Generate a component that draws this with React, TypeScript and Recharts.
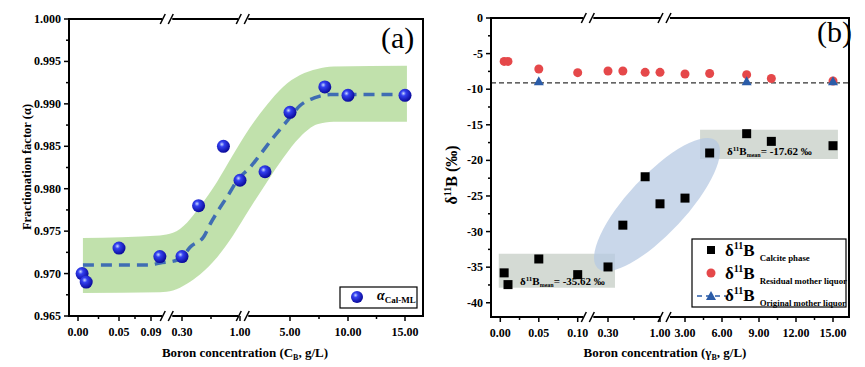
import React from "react";
import {
  ComposedChart,
  Scatter,
  Line,
  Area,
  XAxis,
  YAxis,
  ReferenceArea,
  ReferenceLine,
  ReferenceDot,
} from "recharts";

const FONT = '"Liberation Serif", "Times New Roman", serif';

// ---- panel (a): fractionation factor ----
const alphaConc = [0.005, 0.01, 0.05, 0.15, 0.3, 0.5, 0.8, 1, 3, 5, 8, 10, 15];
const alphaVals = [0.97, 0.969, 0.973, 0.972, 0.972, 0.978, 0.985, 0.981, 0.982, 0.989, 0.992, 0.991, 0.991];

const fitConc = [0.006, 0.05, 0.088, 0.15, 0.25, 0.3, 0.397, 0.566, 0.638, 0.722, 0.855, 0.976, 1.8, 2.6, 3.64, 4.84, 5.87, 7.09, 8.48, 15];
const fitVals = [0.971, 0.971, 0.971, 0.97125, 0.9715, 0.9719, 0.9731, 0.9744, 0.9758, 0.9772, 0.9792, 0.9811, 0.9825, 0.984, 0.986, 0.9881, 0.9898, 0.9907, 0.9911, 0.9911];

const bandConc = [0.006, 0.151, 0.239, 0.36, 0.517, 0.722, 0.916, 1.8, 3.16, 4.44, 5.87, 7.35, 8.74, 15.17];
const bandLow = [0.9677, 0.9678, 0.968, 0.9688, 0.9699, 0.9719, 0.9745, 0.9777, 0.9808, 0.9836, 0.9861, 0.9876, 0.9879, 0.9879];
const bandHigh = [0.9742, 0.9745, 0.9748, 0.976, 0.9779, 0.9808, 0.984, 0.9872, 0.9899, 0.992, 0.9934, 0.9941, 0.9944, 0.9945];

const aTickConc = [0, 0.05, 0.09, 0.3, 1, 5, 10, 15];
const aTickLabels = ["0.00", "0.05", "0.09", "0.30", "1.00", "5.00", "10.00", "15.00"];
const aMinorConc = [0.025, 0.07, 0.65, 7.5, 12.5];
const aYTicks = [0.965, 0.97, 0.975, 0.98, 0.985, 0.99, 0.995, 1.0];
const aYMinor = [0.9675, 0.9725, 0.9775, 0.9825, 0.9875, 0.9925, 0.9975];
const aBreaks = [0.2, 1.26];

// ---- panel (b): delta 11B ----
const bConc = [0.005, 0.01, 0.05, 0.1, 0.3, 0.5, 0.8, 1, 3, 5, 8, 10, 15];
const calciteVals = [-35.8, -37.45, -33.85, -36.05, -34.97, -29.1, -22.3, -26.1, -25.3, -18.96, -16.25, -17.33, -17.94];
const residualVals = [-6.1, -6.1, -7.17, -7.68, -7.45, -7.45, -7.63, -7.63, -7.87, -7.8, -7.96, -8.5, -8.85];
const originalConc = [0.05, 8, 15];
const originalVals = [-8.9, -8.9, -8.9];
const originalMean = -9.1;

const bTickConc = [0, 0.05, 0.1, 0.3, 1, 3, 6, 9, 12, 15];
const bTickLabels = ["0.00", "0.05", "0.10", "0.30", "1.00", "3.00", "6.00", "9.00", "12.00", "15.00"];
const bMinorConc = [0.025, 0.075, 0.65, 4.5, 7.5, 10.5, 13.5];
const bYTicks = [-40, -35, -30, -25, -20, -15, -10, -5, 0];
const bYMinor = [-37.5, -32.5, -27.5, -22.5, -17.5, -12.5, -7.5, -2.5];
const bBreaks = [0.17, 1.4];
// shaded groups [conc from, conc to, value from, value to]
const lowGroup = [-0.002, 0.394, -33.1, -37.9];
const highGroup = [4.22, 15.4, -15.7, -19.8];
const transition = { conc: 0.96, value: -26.2 };

// axis layout: tick position (px from plot left) of each labelled value
const aTickPos = [9, 50, 82, 113, 171, 221, 279, 336];
const bTickPos = [9.3, 47.8, 86.7, 117, 169, 194, 231, 268, 305, 342];

const makePos = (cs: number[], ps: number[]) => (c: number) => {
  let i = 0;
  while (i < cs.length - 2 && c > cs[i + 1]) i++;
  return ps[i] + ((c - cs[i]) / (cs[i + 1] - cs[i])) * (ps[i + 1] - ps[i]);
};
const posA = makePos(aTickConc, aTickPos);
const posB = makePos(bTickConc, bTickPos);

const alphaData = alphaConc.map((c, i) => ({ p: posA(c), v: alphaVals[i] }));
const fitData = fitConc.map((c, i) => ({ p: posA(c), v: fitVals[i] }));
const bandData = bandConc.map((c, i) => ({ p: posA(c), range: [bandLow[i], bandHigh[i]] }));
const calciteData = bConc.map((c, i) => ({ p: posB(c), v: calciteVals[i] }));
const residualData = bConc.map((c, i) => ({ p: posB(c), v: residualVals[i] }));
const originalData = originalConc.map((c, i) => ({ p: posB(c), v: originalVals[i] }));

const makeXTick = (majors: number[], labels: string[]) => (props: any) => {
  const { x, y, payload } = props;
  const idx = majors.findIndex((m) => Math.abs(m - payload.value) < 0.01);
  const lab = idx >= 0 ? labels[idx] : null;
  return (
    <g>
      <line x1={x} x2={x} y1={y} y2={y + (lab ? 5 : 3)} stroke="#000" strokeWidth={1.5} />
      {lab && (
        <text x={x} y={y + 20} textAnchor="middle" fontSize={12} fontWeight="bold" fontFamily={FONT} fill="#000">
          {lab}
        </text>
      )}
    </g>
  );
};

const makeYTick = (majors: number[], fmt: (v: number) => string) => (props: any) => {
  const { x, y, payload } = props;
  const major = majors.some((m) => Math.abs(m - payload.value) < 1e-6);
  return (
    <g>
      <line x1={x} x2={x - (major ? 5 : 3)} y1={y} y2={y} stroke="#000" strokeWidth={1.5} />
      {major && (
        <text x={x - 8} y={y + 4} textAnchor="end" fontSize={12} fontWeight="bold" fontFamily={FONT} fill="#000">
          {fmt(payload.value)}
        </text>
      )}
    </g>
  );
};

const BreakMark = (p: any) => (
  <g>
    <rect x={p.cx - 5} y={p.cy - 3} width={10} height={6} fill="#fff" />
    <line x1={p.cx - 7} y1={p.cy + 5} x2={p.cx - 2} y2={p.cy - 5} stroke="#000" strokeWidth={1.5} />
    <line x1={p.cx + 1} y1={p.cy + 5} x2={p.cx + 6} y2={p.cy - 5} stroke="#000" strokeWidth={1.5} />
  </g>
);

const Ball = (p: any) => <circle cx={p.cx} cy={p.cy} r={6.5} fill="url(#ballGrad)" />;
const Square = (p: any) => <rect x={p.cx - 4.5} y={p.cy - 4.5} width={9} height={9} fill="#000" />;
const RedDot = (p: any) => <circle cx={p.cx} cy={p.cy} r={4.5} fill="#e5484a" />;
const Tri = (p: any) => (
  <polygon points={`${p.cx},${p.cy - 5} ${p.cx - 5},${p.cy + 4} ${p.cx + 5},${p.cy + 4}`} fill="#2b5ca8" />
);
const Ellipse = (p: any) => (
  <ellipse
    cx={p.cx}
    cy={p.cy}
    rx={87}
    ry={29}
    transform={`rotate(-47 ${p.cx} ${p.cy})`}
    fill="#b7c9e3"
    fillOpacity={0.75}
  />
);

const App: React.FC = () => {
  const aMinorP = aMinorConc.map(posA);
  const bMinorP = bMinorConc.map(posB);
  return (
    <div style={{ position: "absolute", left: 0, top: 0, width: 865, height: 367, background: "#fff", fontFamily: FONT }}>
      <div style={{ position: "absolute", left: 0, top: 0 }}>
        <ComposedChart width={432} height={367} margin={{ top: 19, right: 9, bottom: 26, left: 0 }}>
          <defs>
            <radialGradient id="ballGrad" cx="38%" cy="35%" r="65%">
              <stop offset="0%" stopColor="#c8d8ff" />
              <stop offset="30%" stopColor="#3340f0" />
              <stop offset="100%" stopColor="#0a0a9a" />
            </radialGradient>
          </defs>
          <XAxis
            type="number"
            dataKey="p"
            domain={[0, 354]}
            allowDataOverflow
            ticks={[...aTickPos, ...aMinorP]}
            interval={0}
            tickSize={0}
            tickMargin={0}
            height={25}
            tick={makeXTick(aTickPos, aTickLabels)}
            axisLine={{ stroke: "#000", strokeWidth: 2 }}
          />
          <YAxis
            type="number"
            domain={[0.965, 1.0]}
            allowDataOverflow
            ticks={[...aYTicks, ...aYMinor]}
            interval={0}
            tickSize={0}
            tickMargin={0}
            width={69}
            tick={makeYTick(aYTicks, (v) => v.toFixed(3))}
            axisLine={{ stroke: "#000", strokeWidth: 2 }}
          />
          <Area
            data={bandData}
            dataKey="range"
            type="monotone"
            stroke="none"
            fill="#b6dc9e"
            fillOpacity={0.85}
            isAnimationActive={false}
          />
          <Line
            data={fitData}
            dataKey="v"
            type="monotone"
            stroke="#3f6db3"
            strokeWidth={3.5}
            strokeDasharray="11 7"
            dot={false}
            isAnimationActive={false}
          />
          <Scatter data={alphaData} dataKey="v" shape={Ball} isAnimationActive={false} />
          <ReferenceArea x1={0} x2={354} y1={0.965} y2={1.0} fill="none" stroke="#000" strokeWidth={2} />
          {aBreaks.map((c) => (
            <ReferenceDot key={"t" + c} x={posA(c)} y={1.0} ifOverflow="visible" shape={BreakMark} />
          ))}
          {aBreaks.map((c) => (
            <ReferenceDot key={"b" + c} x={posA(c)} y={0.965} ifOverflow="visible" shape={BreakMark} />
          ))}
        </ComposedChart>
      </div>

      <div style={{ position: "absolute", left: 432, top: 0 }}>
        <ComposedChart width={433} height={367} margin={{ top: 18, right: 16, bottom: 25, left: 0 }}>
          <XAxis
            type="number"
            dataKey="p"
            domain={[0, 358]}
            allowDataOverflow
            ticks={[...bTickPos, ...bMinorP]}
            interval={0}
            tickSize={0}
            tickMargin={0}
            height={25}
            tick={makeXTick(bTickPos, bTickLabels)}
            axisLine={{ stroke: "#000", strokeWidth: 2 }}
          />
          <YAxis
            type="number"
            domain={[-42, 0]}
            allowDataOverflow
            ticks={[...bYTicks, ...bYMinor]}
            interval={0}
            tickSize={0}
            tickMargin={0}
            width={59}
            tick={makeYTick(bYTicks, (v) => String(v))}
            axisLine={{ stroke: "#000", strokeWidth: 2 }}
          />
          {[lowGroup, highGroup].map((g, i) => (
            <ReferenceArea
              key={i}
              x1={posB(g[0])}
              x2={posB(g[1])}
              y1={g[2]}
              y2={g[3]}
              fill="#cdd3cd"
              fillOpacity={0.85}
              stroke="none"
            />
          ))}
          <ReferenceDot x={posB(transition.conc)} y={transition.value} ifOverflow="visible" shape={Ellipse} />
          <ReferenceLine y={originalMean} stroke="#333" strokeWidth={1.2} strokeDasharray="5 3" />
          <Scatter data={residualData} dataKey="v" shape={RedDot} isAnimationActive={false} />
          <Scatter data={originalData} dataKey="v" shape={Tri} isAnimationActive={false} />
          <Scatter data={calciteData} dataKey="v" shape={Square} isAnimationActive={false} />
          <ReferenceArea x1={0} x2={358} y1={-42} y2={0} fill="none" stroke="#000" strokeWidth={2} />
          {bBreaks.map((c) => (
            <ReferenceDot key={"t" + c} x={posB(c)} y={0} ifOverflow="visible" shape={BreakMark} />
          ))}
          {bBreaks.map((c) => (
            <ReferenceDot key={"b" + c} x={posB(c)} y={-42} ifOverflow="visible" shape={BreakMark} />
          ))}
        </ComposedChart>
      </div>

      <svg width={865} height={367} style={{ position: "absolute", left: 0, top: 0, pointerEvents: "none" }} fontFamily={FONT}>
        <defs>
          <radialGradient id="ballGradL" cx="38%" cy="35%" r="65%">
            <stop offset="0%" stopColor="#c8d8ff" />
            <stop offset="30%" stopColor="#3340f0" />
            <stop offset="100%" stopColor="#0a0a9a" />
          </radialGradient>
        </defs>

        {/* panel letters */}
        <text x={381} y={48} fontSize={30}>(a)</text>
        <text x={817} y={42} fontSize={30}>(b)</text>

        {/* axis titles */}
        <text x={245} y={357} textAnchor="middle" fontSize={13} fontWeight="bold">
          Boron concentration (C<tspan fontSize={8} dy={3}>B</tspan><tspan dy={-3}>, g/L)</tspan>
        </text>
        <text x={665} y={357} textAnchor="middle" fontSize={13} fontWeight="bold">
          Boron concentration (γ<tspan fontSize={8} dy={3}>B</tspan><tspan dy={-3}>, g/L)</tspan>
        </text>
        <text transform="rotate(-90)" x={-167} y={31} textAnchor="middle" fontSize={12.5} fontWeight="bold">
          Fractionation factor (α)
        </text>
        <text transform="rotate(-90)" x={-175} y={457} textAnchor="middle" fontSize={16} fontWeight="bold">
          δ<tspan fontSize={10} dy={-6}>11</tspan><tspan dy={6}>B (‰)</tspan>
        </text>

        {/* mean annotations */}
        {[
          { x: 520, y: 285, t: "= -35.62 ‰" },
          { x: 727, y: 155, t: "= -17.62 ‰" },
        ].map((a) => (
          <text key={a.t} x={a.x} y={a.y} fontSize={11} fontWeight="bold">
            δ<tspan fontSize={7} dy={-4}>11</tspan>
            <tspan dy={4}>B</tspan>
            <tspan fontSize={6} dy={2}>mean</tspan>
            <tspan dy={-2}>{a.t}</tspan>
          </text>
        ))}

        {/* legend (a) */}
        <rect x={340} y={287} width={77} height={21} fill="#fff" stroke="#000" strokeWidth={1.2} />
        <circle cx={357} cy={297} r={6} fill="url(#ballGradL)" />
        <text x={377} y={300} fontSize={14} fontWeight="bold" fontStyle="italic">
          α<tspan fontSize={9} fontStyle="normal" dy={3}>Cal-ML</tspan>
        </text>

        {/* legend (b) */}
        <rect x={692} y={239} width={154} height={68} fill="#fff" stroke="#000" strokeWidth={1.2} />
        <rect x={707} y={246} width={8} height={8} fill="#000" />
        <circle cx={711} cy={273} r={4.5} fill="#e5484a" />
        <line x1={697} x2={726} y1={296} y2={296} stroke="#2b5ca8" strokeWidth={1.5} strokeDasharray="5 4" />
        <polygon points="711,291 706,300 716,300" fill="#2b5ca8" />
        {[
          { y: 256, t: "Calcite phase" },
          { y: 279, t: "Residual mother liquor" },
          { y: 301, t: "Original mother liquor" },
        ].map((r) => (
          <text key={r.t} x={725} y={r.y} fontSize={17} fontWeight="bold">
            δ<tspan fontSize={10} dy={-7}>11</tspan>
            <tspan dy={7}>B</tspan>
            <tspan fontSize={8.8} dx={5} dy={5}>{r.t}</tspan>
          </text>
        ))}
      </svg>
    </div>
  );
};

export default App;
